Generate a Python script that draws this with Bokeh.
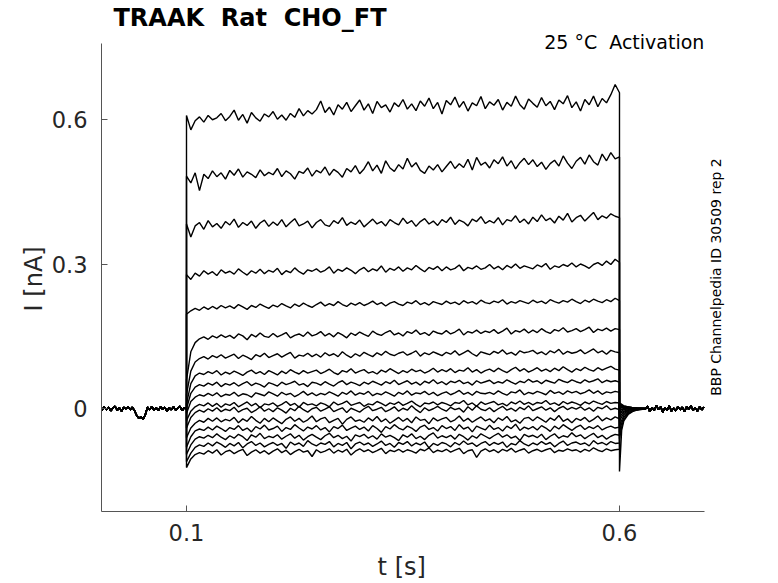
import math
from bokeh.plotting import figure
from bokeh.models import FixedTicker, Label, Range1d
from bokeh.embed import file_html
from bokeh.resources import INLINE

# ---------------- data (currents in pA) ----------------
# baseline before the step (shared by all sweeps)
t_pre = [round(0.0025 * k, 4) for k in range(41)]
i_pre = [2, -3, 4, -2, 3, -4, 1, 5, -3, 2,
         -5, 3, 0, 4, -2, 3, -4, -14, -20, -17,
         -21, -12, 3, -2, 5, -3, 2, -4, 4, -1,
         3, -5, 2, -2, 4, -3, 1, 5, -4, 2,
         0]

# step 0.1 s .. 0.6 s, sampled every 5 ms (101 samples per sweep)
t_step = [round(0.1 + 0.005 * k, 4) for k in range(101)]

step_01 = [608, 578, 597, 605, 594, 608, 599, 603, 612, 597,
           606, 619, 598, 610, 592, 614, 603, 596, 611, 605,
           616, 600, 609, 598, 612, 604, 622, 607, 618, 611,
           620, 638, 614, 625, 609, 630, 621, 635, 616, 628,
           640, 619, 632, 612, 637, 624, 630, 615, 634, 626,
           641, 621, 632, 618, 638, 627, 644, 622, 635, 611,
           639, 630, 646, 625, 637, 617, 634, 628, 647, 622,
           636, 629, 641, 619, 635, 627, 648, 630, 621, 642,
           633, 625, 645, 628, 637, 620, 640, 632, 649, 624,
           636, 617, 641, 630, 648, 626, 643, 634, 651, 672,
           655]
step_02 = [482, 468, 489, 452, 486, 477, 493, 481, 489, 476,
           494, 484, 497, 480, 491, 486, 479, 495, 483, 490,
           485, 498, 481, 493, 487, 476, 492, 488, 499, 482,
           494, 489, 501, 484, 496, 490, 480, 498, 491, 504,
           487, 497, 512, 493, 505, 488, 514, 499, 492, 506,
           497, 519, 501, 510, 494, 488, 503, 495, 506, 491,
           502, 513, 498, 508, 500, 517, 495, 521, 505, 511,
           499, 516, 508, 522, 503, 514, 497, 510, 519, 506,
           516, 502, 511, 496, 508, 515, 503, 524, 509, 498,
           513, 521, 507, 526, 512, 505, 528, 514, 531, 518,
           522]
step_03 = [383, 356, 379, 386, 372, 390, 377, 384, 374, 388,
           381, 393, 376, 386, 380, 389, 374, 385, 391, 378,
           387, 380, 392, 377, 386, 394, 379, 383, 389, 375,
           386, 392, 381, 378, 390, 384, 396, 380, 387, 382,
           391, 377, 385, 393, 383, 388, 379, 392, 386, 381,
           395, 384, 390, 378, 388, 394, 383, 389, 380, 392,
           386, 397, 382, 391, 387, 379, 393, 388, 398, 384,
           390, 385, 396, 381, 392, 389, 400, 386, 393, 383,
           397, 388, 402, 390, 395, 385, 399, 391, 405, 387,
           396, 401, 389, 398, 407, 392, 400, 395, 404, 399,
           396]
step_04 = [278, 268, 281, 275, 286, 279, 284, 276, 288, 281,
           285, 279, 290, 283, 277, 286, 281, 289, 280, 287,
           283, 291, 278, 286, 282, 292, 284, 279, 288, 285,
           290, 283, 287, 294, 281, 289, 285, 292, 287, 280,
           288, 293, 284, 290, 286, 296, 283, 291, 287, 294,
           285, 292, 288, 297, 290, 284, 293, 289, 295, 286,
           294, 288, 291, 298, 286, 293, 290, 296, 289, 292,
           299, 290, 295, 288, 297, 292, 300, 291, 296, 293,
           290, 298, 294, 301, 289, 296, 293, 299, 295, 302,
           294, 300, 296, 291, 299, 303, 297, 306, 299, 310,
           303]
step_05 = [196, 203, 208, 204, 211, 206, 212, 207, 214, 209,
           213, 208, 216, 211, 206, 214, 210, 217, 212, 208,
           215, 211, 218, 213, 209, 217, 212, 219, 214, 210,
           216, 221, 213, 218, 214, 222, 216, 212, 219, 215,
           220, 214, 218, 223, 216, 220, 213, 219, 222, 217,
           214, 221, 218, 224, 216, 220, 215, 222, 219, 216,
           223, 218, 221, 216, 224, 219, 222, 217, 225, 220,
           218, 223, 220, 226, 217, 222, 219, 224, 221, 218,
           225, 220, 223, 218, 226, 222, 219, 224, 221, 227,
           222, 218, 225, 221, 227, 223, 220, 226, 222, 229,
           224]
step_06 = [60, 118, 137, 145, 149, 144, 151, 147, 153, 148,
           152, 146, 155, 151, 143, 154, 149, 157, 150, 148,
           156, 149, 153, 158, 147, 152, 155, 150, 159, 151,
           154, 160, 151, 156, 149, 158, 153, 147, 157, 152,
           159, 154, 150, 161, 155, 152, 158, 162, 153, 157,
           151, 160, 156, 163, 154, 158, 152, 161, 157, 155,
           162, 155, 159, 165, 153, 160, 157, 163, 156, 161,
           158, 164, 156, 161, 167, 155, 162, 159, 165, 157,
           163, 158, 166, 160, 156, 164, 161, 168, 159, 162,
           166, 160, 164, 169, 158, 165, 162, 167, 161, 166,
           164]
step_07 = [30, 78, 97, 104, 108, 103, 110, 106, 112, 105,
           109, 113, 104, 111, 107, 102, 112, 108, 115, 106,
           110, 114, 107, 112, 117, 105, 111, 109, 115, 108,
           113, 107, 116, 110, 114, 108, 118, 111, 106, 114,
           109, 117, 112, 108, 116, 111, 119, 113, 110, 115,
           118, 111, 115, 120, 109, 116, 112, 118, 114, 110,
           117, 113, 120, 111, 116, 121, 114, 109, 118, 115,
           112, 119, 115, 122, 113, 117, 111, 120, 116, 118,
           121, 114, 118, 112, 120, 116, 123, 113, 119, 115,
           117, 122, 114, 119, 124, 116, 120, 113, 121, 118,
           116]
step_08 = [10, 52, 68, 74, 71, 77, 73, 79, 70, 76,
           72, 78, 74, 69, 76, 80, 73, 77, 71, 79,
           75, 70, 78, 73, 81, 76, 72, 79, 74, 77,
           80, 73, 77, 82, 75, 71, 79, 76, 83, 74,
           78, 81, 74, 77, 72, 80, 76, 83, 78, 73,
           79, 75, 82, 77, 80, 74, 78, 84, 76, 81,
           77, 83, 75, 80, 78, 85, 76, 81, 74, 79,
           82, 77, 84, 79, 75, 81, 86, 78, 83, 76,
           80, 85, 78, 82, 77, 84, 79, 87, 81, 76,
           83, 79, 86, 81, 78, 85, 80, 84, 88, 82,
           80]
step_09 = [0, 32, 45, 50, 47, 53, 49, 55, 46, 52,
           49, 54, 47, 52, 56, 48, 53, 50, 45, 54,
           51, 47, 55, 50, 53, 57, 49, 52, 46, 55,
           53, 49, 56, 51, 47, 54, 58, 50, 55, 52,
           48, 55, 51, 57, 53, 49, 56, 52, 59, 50,
           54, 58, 51, 55, 49, 57, 53, 60, 52, 56,
           50, 57, 54, 59, 52, 55, 49, 58, 53, 56,
           59, 52, 56, 53, 60, 55, 51, 57, 54, 61,
           55, 58, 52, 59, 56, 53, 61, 57, 54, 60,
           56, 53, 60, 55, 58, 62, 54, 59, 56, 58,
           55]
step_10 = [-10, 15, 24, 29, 26, 32, 27, 33, 25, 30,
           28, 34, 26, 31, 29, 24, 33, 30, 27, 35,
           31, 26, 34, 29, 32, 25, 30, 36, 28, 33,
           27, 32, 29, 35, 31, 26, 34, 30, 37, 28,
           33, 30, 36, 27, 32, 29, 35, 31, 26, 34,
           30, 37, 28, 33, 31, 36, 29, 34, 27, 32,
           35, 29, 33, 38, 30, 34, 28, 36, 32, 31,
           34, 30, 37, 32, 28, 35, 33, 39, 29, 34,
           31, 36, 33, 29, 38, 32, 35, 30, 37, 33,
           36, 31, 34, 39, 32, 37, 30, 35, 33, 36,
           34]
step_11 = [-25, -5, 4, 9, 6, 12, 5, 11, 3, 10,
           7, 13, 4, 9, 14, 6, 11, 2, 10, 8,
           12, 5, 9, 15, 7, 11, 3, 13, 8, 10,
           6, 12, 9, 4, 14, 8, 11, 16, 7, 10,
           13, 5, 10, 8, 15, 11, 6, 12, 9, 14,
           7, 11, 16, 9, 4, 12, 10, 14, 8, 13,
           10, 6, 13, 11, 17, 8, 12, 5, 14, 9,
           12, 15, 8, 11, 6, 14, 10, 16, 9, 13,
           8, 13, 11, 17, 9, 12, 7, 15, 10, 14,
           11, 7, 14, 10, 16, 12, 9, 15, 11, 13,
           12]
step_12 = [-40, -18, -8, -3, -7, 0, -5, 2, -6, -1,
           -4, 3, -7, -2, 1, -8, -3, 4, -5, 0,
           -6, 2, -3, -9, 1, -4, 5, -2, -7, 0,
           3, -5, -1, 4, -6, -2, 2, -8, 1, -3,
           -7, 0, 5, -4, -1, 3, -6, -2, 4, -5,
           1, -3, 6, -2, -8, 2, -4, 0, 5, -1,
           -5, 3, -2, 1, -7, 4, -3, 6, -1, -4,
           2, -6, 0, 5, -3, 1, -5, 3, -2, 6,
           -4, 0, 4, -3, 2, -6, 1, 5, -2, 3,
           -1, 4, -3, 2, -5, 3, 0, 6, -2, 1,
           -2]
step_13 = [-60, -40, -30, -24, -28, -20, -26, -19, -27, -22,
           -25, -18, -29, -21, -26, -16, -24, -30, -20, -27,
           -19, -25, -31, -22, -17, -26, -20, -28, -23, -15,
           -27, -21, -18, -29, -24, -20, -32, -22, -17, -26,
           -23, -28, -19, -25, -16, -27, -21, -30, -24, -18,
           -26, -20, -29, -17, -24, -22, -31, -19, -25, -21,
           -18, -27, -23, -15, -26, -20, -28, -22, -17, -25,
           -21, -29, -19, -24, -16, -27, -23, -30, -20, -18,
           -25, -17, -22, -28, -19, -24, -14, -26, -21, -29,
           -20, -24, -18, -27, -22, -15, -25, -19, -23, -17,
           -21]
step_14 = [-80, -58, -46, -42, -45, -38, -44, -36, -41, -47,
           -39, -43, -35, -45, -40, -48, -37, -42, -34, -44,
           -41, -36, -47, -39, -43, -33, -40, -46, -38, -42,
           -35, -44, -39, -48, -37, -41, -34, -45, -40, -36,
           -43, -38, -46, -35, -41, -49, -37, -42, -33, -40,
           -44, -36, -40, -47, -38, -34, -43, -39, -46, -35,
           -41, -37, -45, -33, -42, -38, -48, -36, -40, -44,
           -34, -43, -39, -46, -36, -41, -32, -45, -38, -42,
           -37, -44, -35, -40, -47, -36, -42, -33, -39, -45,
           -38, -34, -43, -37, -41, -35, -44, -39, -36, -40,
           -38]
step_15 = [-95, -75, -63, -58, -61, -55, -60, -52, -59, -64,
           -56, -61, -53, -58, -66, -54, -59, -51, -62, -57,
           -60, -54, -63, -57, -52, -61, -55, -65, -58, -53,
           -59, -64, -56, -51, -60, -55, -62, -57, -67, -54,
           -58, -53, -61, -56, -63, -52, -59, -55, -60, -66,
           -54, -59, -52, -62, -57, -64, -55, -50, -61, -56,
           -60, -55, -63, -53, -58, -65, -56, -61, -52, -57,
           -62, -56, -51, -59, -54, -61, -57, -66, -53, -58,
           -55, -60, -53, -64, -57, -52, -61, -56, -59, -50,
           -58, -54, -62, -56, -51, -60, -55, -63, -57, -53,
           -55]
step_16 = [-110, -92, -80, -75, -78, -71, -77, -69, -74, -80,
           -72, -77, -70, -81, -73, -68, -76, -71, -79, -74,
           -70, -76, -72, -82, -69, -75, -71, -78, -66, -73,
           -77, -71, -74, -68, -79, -72, -76, -70, -83, -73,
           -69, -75, -71, -78, -73, -67, -76, -72, -80, -70,
           -74, -68, -77, -71, -75, -69, -81, -72, -76, -70,
           -73, -79, -70, -75, -67, -74, -71, -78, -72, -68,
           -76, -70, -74, -69, -80, -72, -75, -66, -73, -77,
           -71, -75, -68, -74, -70, -79, -72, -67, -76, -71,
           -69, -74, -71, -77, -66, -73, -70, -75, -68, -72,
           -71]
step_17 = [-122, -104, -95, -91, -94, -87, -92, -85, -96, -89,
           -86, -93, -88, -84, -97, -90, -85, -92, -87, -94,
           -88, -83, -91, -86, -95, -89, -84, -90, -87, -99,
           -85, -91, -88, -83, -92, -86, -90, -84, -96, -88,
           -83, -89, -85, -91, -87, -82, -93, -86, -89, -84,
           -90, -85, -88, -92, -84, -87, -81, -91, -86, -89,
           -84, -90, -86, -82, -93, -87, -85, -101, -88, -83,
           -89, -85, -91, -84, -88, -82, -90, -86, -83, -92,
           -87, -84, -89, -85, -82, -91, -86, -88, -83, -87,
           -85, -90, -84, -88, -81, -86, -89, -83, -87, -85,
           -84]

# tail currents right after the step
t_tail = [0.6, 0.6025, 0.605, 0.61, 0.615, 0.62, 0.63]
tail_pA = [
    [-130, -45, -25, -12, -6, -3, 0],
    [-62, -38, -22, -10, -5, -2, 1],
    [-48, -30, -18, -8, -4, -1, 0],
    [-36, -24, -14, -6, -3, 0, -1],
    [-26, -17, -10, -4, -1, 1, 0],
    [-18, -12, -7, -3, 0, -1, 1],
    [-12, -8, -5, -2, 1, 0, -1],
    [-8, -5, -2, 0, -1, 1, 0],
    [-4, -2, 0, 1, -1, 0, 1],
    [0, 2, 1, 2, 0, -1, 0],
    [2, 3, 2, 1, 1, 0, 1],
    [4, 4, 3, 2, 1, 1, 0],
    [6, 5, 4, 2, 1, 0, 1],
    [8, 6, 4, 3, 2, 1, 0],
    [9, 7, 5, 3, 2, 1, 0],
    [11, 8, 6, 4, 2, 1, 1],
    [12, 9, 6, 4, 2, 1, 0],
]

# baseline after the tail (shared)
t_post = [round(0.6325 + 0.0025 * k, 4) for k in range(27)]
i_post = [5, -6, 3, -4, 7, -2, 4, -7, 2, -3, 6, -5, 1, -4,
          5, -2, 3, -6, 4, -1, 6, -3, 2, -5, 4, -2, 3]

steps = [step_01, step_02, step_03, step_04, step_05, step_06, step_07,
         step_08, step_09, step_10, step_11, step_12, step_13, step_14,
         step_15, step_16, step_17]

x_ticks = [0.1, 0.6]
y_ticks = [0, 0.3, 0.6]
x_axis_span = (0.00185, 0.698)
y_axis_span = (-0.213, 0.757)

NB = "\u00a0"
title_text = "TRAAK" + NB + NB + "Rat" + NB + NB + "CHO_FT"
cond_text = "25" + NB + "\u00b0C" + NB + NB + "Activation"
side_text = "BBP Channelpedia ID 30509 rep 2"
x_label = "t [s]"
y_label = "I [nA]"

# ---------------- figure ----------------
FONT = "DejaVu Sans"
TXT = "#262626"
AX = "#555555"

p = figure(width=778, height=583,
           x_range=Range1d(0.00185, 0.7305), y_range=Range1d(-0.213, 0.8462),
           output_backend="svg", toolbar_location=None,
           min_border_left=101, min_border_right=46,
           min_border_top=0, min_border_bottom=71)
p.title.text = ""
p.xgrid.visible = False
p.ygrid.visible = False
p.outline_line_color = None
p.background_fill_color = "white"
p.border_fill_color = "white"

t_all = t_pre + t_step + t_tail + t_post
for k, st in enumerate(steps):
    i_all = i_pre + st + tail_pA[k] + i_post
    p.line(t_all, [v / 1000.0 for v in i_all], line_color="black", line_width=1.4)

for ax in (p.xaxis[0], p.yaxis[0]):
    ax.axis_line_color = AX
    ax.major_tick_line_color = AX
    ax.minor_tick_line_color = None
    ax.major_tick_in = 6
    ax.major_tick_out = 0
    ax.major_label_text_font = FONT
    ax.major_label_text_font_size = "22.5px"
    ax.major_label_text_color = TXT
    ax.axis_label_text_font = FONT
    ax.axis_label_text_font_size = "24px"
    ax.axis_label_text_font_style = "normal"
    ax.axis_label_text_color = TXT

p.xaxis.bounds = x_axis_span
p.yaxis.bounds = y_axis_span
p.xaxis.ticker = FixedTicker(ticks=x_ticks)
p.yaxis.ticker = FixedTicker(ticks=y_ticks)
p.xaxis.major_label_overrides = {0.1: "0.1", 0.6: "0.6"}
p.yaxis.major_label_overrides = {0: "0", 0.3: "0.3", 0.6: "0.6"}
p.xaxis.major_label_standoff = 12
p.yaxis.major_label_standoff = 14
# axis labels are centred on the whole frame; trailing no-break spaces
# shift the visible text to the centre of the drawn axis line
p.xaxis.axis_label = x_label + NB * 4
p.yaxis.axis_label = y_label + NB * 6
p.xaxis.axis_label_standoff = 9
p.yaxis.axis_label_standoff = 1

p.add_layout(Label(x=0.0157, y=0.809, text=title_text, text_font=FONT,
                   text_font_size="24px", text_font_style="bold",
                   text_color="black", text_align="left", text_baseline="middle"))
p.add_layout(Label(x=0.698, y=0.761, text=cond_text, text_font=FONT,
                   text_font_size="19px", text_color="black",
                   text_align="right", text_baseline="middle"))
p.add_layout(Label(x=0.712, y=0.273, text=side_text, text_font=FONT,
                   text_font_size="14px", text_color="black", angle=math.pi / 2,
                   text_align="center", text_baseline="middle"))

open("out.html", "w").write(file_html(p, INLINE))
